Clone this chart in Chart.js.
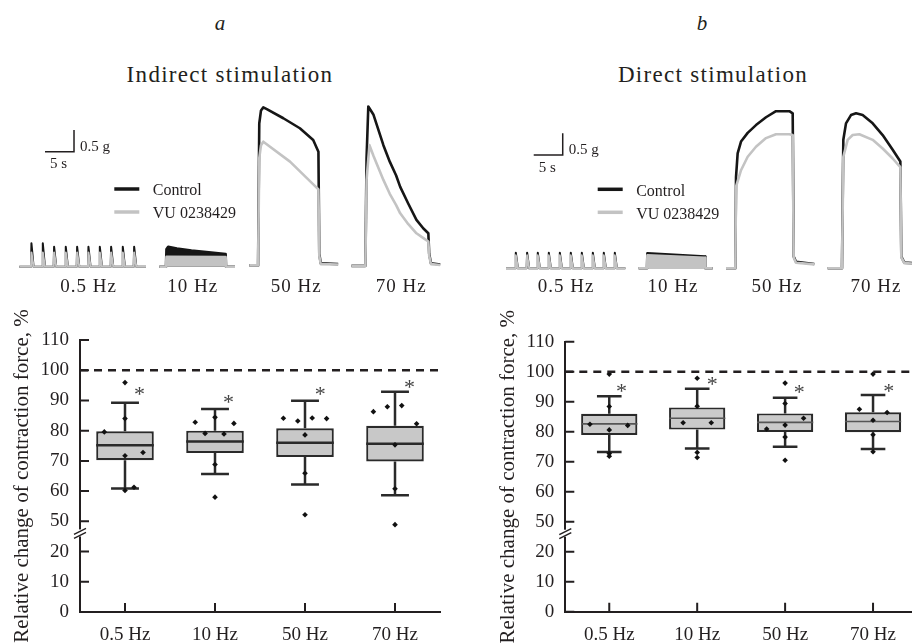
<!DOCTYPE html>
<html>
<head>
<meta charset="utf-8">
<script src="https://cdn.jsdelivr.net/npm/chart.js@4.4.1/dist/chart.umd.min.js"></script>
<style>
html,body{margin:0;padding:0;background:#fff;}
body{width:912px;height:643px;overflow:hidden;position:relative;}
canvas{position:absolute;}
.lbl{position:absolute;font-family:"Liberation Serif","Times New Roman",serif;color:#231f20;white-space:nowrap;line-height:1;transform:translateX(-50%);}
</style>
</head>
<body>
<div class="lbl" style="left:220px;top:13px;font-size:21px;font-style:italic">a</div>
<div class="lbl" style="left:702px;top:13px;font-size:21px;font-style:italic">b</div>
<div class="lbl" style="left:230px;top:63px;font-size:23px;letter-spacing:1.3px">Indirect stimulation</div>
<div class="lbl" style="left:713px;top:63px;font-size:23px;letter-spacing:1.3px">Direct stimulation</div>
<canvas id="traceA" width="456" height="210" style="left:0;top:90px"></canvas>
<canvas id="traceB" width="456" height="210" style="left:456px;top:90px"></canvas>
<canvas id="boxA" width="456" height="353" style="left:0;top:290px"></canvas>
<canvas id="boxB" width="470" height="353" style="left:456px;top:290px"></canvas>
<script>
// frequencies and axis labels
const cats = ['0.5 Hz', '10 Hz', '50 Hz', '70 Hz'];
const yTickLabels = [0, 10, 20, 50, 60, 70, 80, 90, 100, 110];

// a: indirect stimulation, % of control
const aLow  = [60.9, 65.7, 62.2, 58.6];
const aQ1   = [70.2, 72.6, 71.3, 69.8];
const aMed  = [75.2, 76.4, 76.0, 75.7];
const aQ3   = [79.8, 80.0, 80.8, 81.6];
const aHigh = [89.2, 87.2, 89.9, 92.9];
const aStar = [93.3, 90.9, 93.3, 95.8];
const aStarDx = [0.16, 0.15, 0.17, 0.16];
// single muscles: [offset from box centre, value]
const aDots0 = [[0, 95.9], [0, 84.0], [-0.23, 79.6], [0, 71.7], [0.2, 72.8], [0, 60.2], [0.1, 61.3]];
const aDots1 = [[-0.22, 82.8], [0, 84.4], [0.21, 82.4], [-0.11, 79.1], [0.1, 78.9], [0, 68.8], [0, 58.0]];
const aDots2 = [[-0.24, 84.1], [-0.08, 83.2], [0.08, 84.2], [0.24, 84.0], [0, 78.6], [0, 65.9], [0, 52.2]];
const aDots3 = [[-0.24, 86.3], [-0.085, 87.9], [0.075, 88.3], [0.24, 82.3], [0, 75.3], [0, 60.8], [0, 48.9]];

// b: direct stimulation
const bLow  = [73.2, 74.4, 75.0, 74.2];
const bQ1   = [78.9, 80.7, 79.9, 79.8];
const bMed  = [82.6, 84.5, 83.1, 83.4];
const bQ3   = [86.0, 88.1, 86.1, 86.5];
const bHigh = [91.8, 94.3, 91.3, 92.2];
const bStar = [95.0, 97.2, 94.4, 95.0];
const bStarDx = [0.14, 0.17, 0.16, 0.18];
const bDots0 = [[0, 99.2], [0, 88.4], [-0.22, 82.5], [0, 80.6], [0.21, 82.1], [0, 72.7], [0, 71.8]];
const bDots1 = [[0, 97.8], [0, 88.5], [-0.16, 83.0], [0.16, 83.0], [0, 73.1], [0, 71.4]];
const bDots2 = [[0, 96.2], [0, 89.4], [-0.21, 80.9], [0, 82.2], [0.21, 84.5], [0, 78.2], [0, 70.5]];
const bDots3 = [[0, 99.2], [-0.155, 87.5], [0.16, 86.4], [0, 83.8], [0, 79.0], [0, 73.3]];

// force traces, [time s, force g]; segments are laid side by side
const aSpikeSpan = [3.33, 25.17];
const aSpikeT = [5.34, 7.30, 9.25, 11.26, 13.22, 15.17, 17.13, 19.08, 21.09, 23.05];
const aCtrlSpike = [0.54, 0.54, 0.46, 0.46, 0.46, 0.46, 0.46, 0.46, 0.46, 0.46];
const aVuSpike = [0.33, 0.33, 0.33, 0.33, 0.33, 0.33, 0.33, 0.33, 0.33, 0.33];
const aCtrl10 = [[27.47, 0], [28.62, 0], [28.7, 0.4], [29.0, 0.46], [30.5, 0.42], [33, 0.37], [36, 0.33], [38.9, 0.29], [38.97, 0], [40.52, 0]];
const aVu10 = [[27.47, 0], [28.62, 0], [28.7, 0.23], [38.9, 0.22], [38.97, 0], [40.52, 0]];
const aCtrl50 = [[43.0, 0.03], [44.5, 0.03], [44.7, 3.3], [45.0, 3.6], [45.4, 3.67], [46.0, 3.63], [48.85, 3.42], [51.7, 3.19], [54.0, 2.92], [54.9, 2.65], [55.05, 0.3], [55.3, 0.08], [58.3, 0.06]];
const aVu50 = [[43.0, 0.03], [44.5, 0.03], [44.7, 2.5], [45.0, 2.8], [45.4, 2.88], [50.0, 2.42], [54.9, 1.78], [55.05, 0.25], [55.3, 0.06], [58.3, 0.05]];
const aCtrl70 = [[60.6, 0.02], [63.0, 0.02], [63.2, 2.5], [63.5, 3.69], [64.4, 3.5], [66.1, 2.8], [67.2, 2.42], [68.3, 2.1], [69.0, 1.84], [70.4, 1.45], [71.8, 1.08], [73.0, 0.88], [73.85, 0.77], [74.0, 0.3], [74.3, 0.08], [75.9, 0.05]];
const aVu70 = [[60.6, 0.02], [63.0, 0.02], [63.2, 2.0], [63.7, 2.8], [64.4, 2.55], [66.1, 2.0], [67.2, 1.68], [68.3, 1.42], [69.0, 1.23], [70.4, 0.98], [71.8, 0.77], [73.0, 0.66], [73.85, 0.58], [74.0, 0.25], [74.3, 0.06], [75.9, 0.04]];

const bSpikeSpan = [8.62, 29.2];
const bSpikeT = [10.23, 12.18, 14.02, 15.92, 17.82, 19.71, 21.61, 23.51, 25.40, 27.30];
const bCtrlSpike = [0.36, 0.36, 0.36, 0.36, 0.36, 0.36, 0.36, 0.36, 0.36, 0.36];
const bVuSpike = [0.3, 0.3, 0.3, 0.3, 0.3, 0.3, 0.3, 0.3, 0.3, 0.3];
const bCtrl10 = [[31.49, 0], [32.93, 0], [33.0, 0.345], [42.95, 0.27], [43.0, 0], [44.25, 0]];
const bVu10 = [[31.49, 0], [32.93, 0], [33.0, 0.3], [42.95, 0.245], [43.0, 0], [44.25, 0]];
const bCtrl50 = [[46.55, 0], [48.16, 0], [48.28, 2.11], [48.56, 2.65], [49.14, 2.92], [50.29, 3.12], [51.72, 3.30], [53.45, 3.48], [55.17, 3.62], [57.47, 3.62], [58.05, 3.57], [58.22, 0.27], [58.62, 0.15], [61.78, 0.1]];
const bVu50 = [[46.55, 0], [48.16, 0], [48.28, 1.88], [49.14, 2.26], [50.29, 2.57], [51.72, 2.80], [53.45, 3.0], [55.17, 3.09], [57.47, 3.09], [58.05, 3.07], [58.22, 0.25], [58.62, 0.13], [61.78, 0.09]];
const bCtrl70 = [[64.08, 0], [66.55, 0], [66.78, 2.96], [67.24, 3.34], [68.10, 3.53], [68.97, 3.57], [70.11, 3.53], [71.84, 3.34], [73.56, 3.07], [75.29, 2.73], [76.61, 2.46], [76.78, 0.27], [77.3, 0.13], [78.62, 0.12]];
const bVu70 = [[64.08, 0], [66.55, 0], [66.78, 2.57], [67.53, 2.96], [68.39, 3.07], [69.54, 3.09], [71.84, 2.96], [73.56, 2.76], [75.29, 2.53], [76.61, 2.33], [76.78, 0.25], [77.3, 0.12], [78.62, 0.11]];

// calibration bars
const barSec = 5;
const barG = 0.5;

const INK = '#231f20';
const SERIF = '"Liberation Serif", "Times New Roman", serif';
const CTRL = '#161616';
const VU = '#c3c3c3';

// broken y axis: 20..50 squeezed into one step
function brk(v) {
  return v > 20 ? Math.max(v - 20, 20) : v;
}

const traceDecor = {
  id: 'traceDecor',
  afterDraw(chart, args, o) {
    const ctx = chart.ctx, x = chart.scales.x, y = chart.scales.y;
    ctx.save();
    // scale bar
    const cx = x.getPixelForValue(o.bar[0]), cy = y.getPixelForValue(o.bar[1]);
    const lx = x.getPixelForValue(o.bar[0] - barSec), ty = y.getPixelForValue(o.bar[1] + barG);
    ctx.strokeStyle = INK;
    ctx.lineWidth = 1.5;
    ctx.beginPath();
    ctx.moveTo(lx, cy); ctx.lineTo(cx, cy); ctx.lineTo(cx, ty);
    ctx.stroke();
    ctx.fillStyle = INK;
    ctx.font = '15px ' + SERIF;
    ctx.textAlign = 'left';
    ctx.textBaseline = 'alphabetic';
    ctx.fillText(barG + ' g', cx + 6, cy - 1);
    ctx.fillText(barSec + ' s', lx + 5, cy + 16.5);
    // legend
    const lg = o.legend;
    ctx.lineWidth = 3.5;
    ctx.strokeStyle = CTRL;
    ctx.beginPath(); ctx.moveTo(lg[0], lg[1]); ctx.lineTo(lg[0] + 25, lg[1]); ctx.stroke();
    ctx.strokeStyle = VU;
    ctx.beginPath(); ctx.moveTo(lg[0], lg[1] + 23); ctx.lineTo(lg[0] + 25, lg[1] + 23); ctx.stroke();
    ctx.font = '16px ' + SERIF;
    ctx.fillText('Control', lg[0] + 38.5, lg[1] + 6.3);
    ctx.fillText('VU 0238429', lg[0] + 38.5, lg[1] + 29.3);
    // frequency labels under the traces
    ctx.font = '19px ' + SERIF;
    ctx.textAlign = 'center';
    ctx.letterSpacing = '1px';
    o.labelX.forEach((px, i) => ctx.fillText(cats[i], px, o.labelY));
    ctx.restore();
  }
};

function spikeTrain(span, times, peaks) {
  const pts = [[span[0], 0]];
  times.forEach((t, i) => {
    pts.push([t, 0], [t + 0.08, peaks[i]], [t + 0.45, 0]);
  });
  pts.push([span[1], 0]);
  return pts;
}

function traceChart(id, ctrl, vu, yMin, yMax, deco) {
  const sets = [];
  ctrl.forEach((d, i) => sets.push({
    data: d, borderColor: CTRL, borderWidth: i === 0 ? 2 : 2.6, order: 1,
    fill: i === 1 ? 'origin' : false, backgroundColor: CTRL
  }));
  vu.forEach((d, i) => sets.push({
    data: d, borderColor: VU, borderWidth: i === 0 ? 2 : 2.6, order: 0,
    fill: i === 1 ? 'origin' : false, backgroundColor: VU
  }));
  return new Chart(document.getElementById(id), {
    type: 'line',
    data: { datasets: sets },
    options: {
      responsive: false,
      animation: false,
      events: [],
      layout: { padding: 0 },
      elements: { point: { radius: 0 }, line: { tension: 0, borderJoinStyle: 'round' } },
      scales: {
        x: { type: 'linear', display: false, min: 0, max: 78.62 },
        y: { type: 'linear', display: false, min: yMin, max: yMax }
      },
      plugins: { legend: { display: false }, tooltip: { enabled: false }, traceDecor: deco }
    },
    plugins: [traceDecor]
  });
}

traceChart('traceA',
  [spikeTrain(aSpikeSpan, aSpikeT, aCtrlSpike), aCtrl10, aCtrl50, aCtrl70],
  [spikeTrain(aSpikeSpan, aSpikeT, aVuSpike), aVu10, aVu50, aVu70],
  -0.767, 4.071,
  { bar: [12.76, 2.65], legend: [114.3, 99], labelX: [88.7, 192.7, 296.3, 401.2], labelY: 202 });

traceChart('traceB',
  [spikeTrain(bSpikeSpan, bSpikeT, bCtrlSpike), bCtrl10, bCtrl50, bCtrl70],
  [spikeTrain(bSpikeSpan, bSpikeT, bVuSpike), bVu10, bVu50, bVu70],
  -0.730, 4.108,
  { bar: [18.4, 2.61], legend: [141.7, 99.3], labelX: [110, 217, 321, 420], labelY: 202 });

const boxDecor = {
  id: 'boxDecor',
  afterDatasetDraw(chart, args, o) {
    if (args.index !== 0) return;
    const ctx = chart.ctx, x = chart.scales.x, y = chart.scales.y;
    const bars = args.meta.data;
    ctx.save();
    ctx.strokeStyle = '#2a2a2a';
    ctx.lineCap = 'butt';
    o.low.forEach((lo, i) => {
      const cx = x.getPixelForValue(i + 1);
      const cap = x.getPixelForValue(i + 1 + o.cap) - cx;
      const pairs = [[o.q3[i], o.high[i]], [o.q1[i], lo]];
      ctx.lineWidth = 2.5;
      pairs.forEach(([from, to]) => {
        const y0 = y.getPixelForValue(brk(from)), y1 = y.getPixelForValue(brk(to));
        ctx.beginPath();
        ctx.moveTo(cx, y0); ctx.lineTo(cx, y1);
        ctx.moveTo(cx - cap, y1); ctx.lineTo(cx + cap, y1);
        ctx.stroke();
      });
      const hw = bars[i].width / 2;
      const ym = y.getPixelForValue(brk(o.med[i]));
      ctx.lineWidth = o.medW;
      ctx.strokeStyle = o.medC;
      ctx.beginPath(); ctx.moveTo(cx - hw, ym); ctx.lineTo(cx + hw, ym); ctx.stroke();
      ctx.strokeStyle = '#2a2a2a';
    });
    ctx.restore();
  },
  afterDraw(chart, args, o) {
    const ctx = chart.ctx, x = chart.scales.x, y = chart.scales.y;
    const a = chart.chartArea;
    ctx.save();
    ctx.strokeStyle = INK;
    ctx.lineWidth = 2;
    // inward ticks
    ctx.beginPath();
    y.ticks.forEach(t => {
      const py = y.getPixelForValue(t.value);
      ctx.moveTo(a.left, py); ctx.lineTo(a.left + 9, py);
    });
    x.ticks.forEach(t => {
      const px = x.getPixelForValue(t.value);
      ctx.moveTo(px, a.bottom); ctx.lineTo(px, a.bottom - 9);
    });
    ctx.stroke();
    // 100 % reference line
    const p100 = y.getPixelForValue(brk(100));
    ctx.lineWidth = 2.5;
    ctx.setLineDash([8, 6]);
    ctx.beginPath(); ctx.moveTo(a.left, p100); ctx.lineTo(a.right, p100); ctx.stroke();
    ctx.setLineDash([]);
    // axis break
    const yb = y.getPixelForValue(26);
    ctx.fillStyle = '#fff';
    ctx.fillRect(a.left - 2.5, yb - 4, 5, 7);
    ctx.lineWidth = 1.4;
    ctx.beginPath();
    ctx.moveTo(a.left - 6, yb + 1); ctx.lineTo(a.left + 6, yb - 5);
    ctx.moveTo(a.left - 6, yb + 5); ctx.lineTo(a.left + 6, yb - 1);
    ctx.stroke();
    // significance marks
    ctx.fillStyle = '#444';
    ctx.font = '22px ' + SERIF;
    ctx.textAlign = 'center';
    ctx.textBaseline = 'alphabetic';
    o.star.forEach((v, i) => {
      ctx.fillText('*', x.getPixelForValue(i + 1 + o.starDx[i]), y.getPixelForValue(brk(v)) + 10.8);
    });
    ctx.restore();
  }
};

function boxChart(id, s) {
  const dots = [];
  s.dots.forEach((arr, i) => arr.forEach(([dx, v]) => dots.push({ x: i + 1 + dx, y: brk(v) })));
  const tickFont = { family: SERIF, size: 19 };
  return new Chart(document.getElementById(id), {
    type: 'scatter',
    data: {
      datasets: [
        {
          type: 'bar',
          data: cats.map((c, i) => ({ x: i + 1, y: [brk(s.q1[i]), brk(s.q3[i])] })),
          backgroundColor: s.fill, borderColor: '#2a2a2a', borderWidth: 2.2, borderSkipped: false,
          barPercentage: 0.8, categoryPercentage: 0.8, order: 1
        },
        {
          type: 'scatter', data: dots, pointStyle: 'rectRot', pointRadius: 2.8,
          backgroundColor: '#111', borderWidth: 0, order: 0
        }
      ]
    },
    options: {
      responsive: false,
      animation: false,
      events: [],
      layout: { padding: { left: 0, top: s.padTop, right: s.padRight, bottom: 0 } },
      scales: {
        x: {
          type: 'linear', min: 0.5, max: 4.5, offset: false,
          afterBuildTicks: sc => { sc.ticks = cats.map((c, i) => ({ value: i + 1 })); },
          afterFit: sc => { sc.height = s.axisH; },
          grid: { display: false, drawTicks: false },
          border: { display: true, color: INK, width: 2 },
          ticks: { padding: 12, color: INK, font: tickFont, autoSkip: false, maxRotation: 0,
                   callback: (v, i) => cats[i] }
        },
        y: {
          type: 'linear', min: 0, max: 90,
          afterBuildTicks: sc => { sc.ticks = yTickLabels.map(v => ({ value: brk(v) })); },
          afterFit: sc => { sc.width = s.axisW; },
          grid: { display: false, drawTicks: false },
          border: { display: true, color: INK, width: 2 },
          ticks: { padding: 11, color: INK, font: tickFont, callback: (v, i) => yTickLabels[i] },
          title: { display: true, text: 'Relative change of contraction force, %', color: INK,
                   font: { family: SERIF, size: 21 }, padding: { top: s.titlePad, bottom: 0 } }
        }
      },
      plugins: {
        legend: { display: false },
        tooltip: { enabled: false },
        boxDecor: { low: s.low, q1: s.q1, med: s.med, q3: s.q3, high: s.high, star: s.star,
                    starDx: s.starDx, cap: s.cap, medW: s.medW, medC: s.medC }
      }
    },
    plugins: [boxDecor]
  });
}

boxChart('boxA', {
  low: aLow, q1: aQ1, med: aMed, q3: aQ3, high: aHigh, star: aStar, starDx: aStarDx,
  dots: [aDots0, aDots1, aDots2, aDots3],
  fill: '#c8c8c8', medW: 2.5, medC: '#2a2a2a', cap: 0.155,
  padTop: 50, padRight: 16, axisW: 80, axisH: 31, titlePad: 9.4
});

boxChart('boxB', {
  low: bLow, q1: bQ1, med: bMed, q3: bQ3, high: bHigh, star: bStar, starDx: bStarDx,
  dots: [bDots0, bDots1, bDots2, bDots3],
  fill: '#cacaca', medW: 1.6, medC: '#555', cap: 0.14,
  padTop: 51.7, padRight: 9, axisW: 109.3, axisH: 31.3, titlePad: 39.4
});
</script>
</body>
</html>
